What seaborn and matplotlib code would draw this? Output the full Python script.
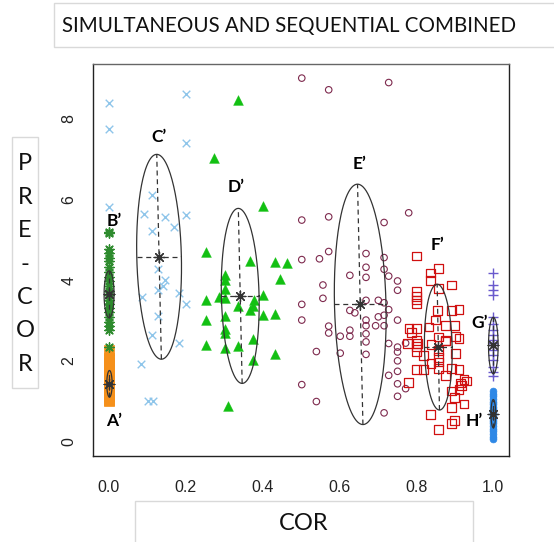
import numpy as np
import pandas as pd
import matplotlib
matplotlib.use("Agg")
import matplotlib.pyplot as plt
import seaborn as sns
from matplotlib.patches import Rectangle

sns.set_style("white")
plt.rcParams["font.family"] = ["Liberation Sans", "DejaVu Sans"]

# ---------------- data ----------------
# A' : orange filled squares at COR = 0
a_x = [0.0] * 20
a_y = [1.00, 1.04, 1.12, 1.18, 1.25, 1.31, 1.36, 1.42, 1.47, 1.50,
       1.58, 1.63, 1.70, 1.76, 1.82, 1.89, 1.95, 2.02, 2.06, 2.27]
# B' : green asterisks at COR = 0
b_x = [0.0] * 22
b_y = [5.20, 5.18, 4.78, 4.68, 4.55, 4.47, 4.33, 4.20, 4.08, 3.97, 3.85,
       3.72, 3.62, 3.52, 3.42, 3.31, 3.20, 3.08, 2.97, 2.86, 2.76, 2.34]
# C' : light blue crosses
c_x = [0.0, 0.0, 0.0, 0.202, 0.202, 0.112, 0.092, 0.146, 0.202, 0.112, 0.170, 0.127,
       0.146, 0.142, 0.127, 0.086, 0.183, 0.202, 0.127, 0.112, 0.183, 0.085, 0.103, 0.114]
c_y = [8.39, 7.75, 5.82, 8.61, 7.40, 6.11, 5.63, 5.57, 5.61, 5.22, 5.32, 4.27,
       4.00, 3.85, 3.75, 3.59, 3.67, 3.40, 3.11, 2.65, 2.45, 1.91, 1.00, 1.00]
# D' : green triangles
d_x = [0.336, 0.274, 0.402, 0.252, 0.367, 0.432, 0.463, 0.445, 0.302, 0.302, 0.302,
       0.287, 0.302, 0.252, 0.402, 0.378, 0.336, 0.367, 0.374, 0.252, 0.302, 0.402,
       0.432, 0.302, 0.302, 0.376, 0.252, 0.302, 0.336, 0.432, 0.376, 0.309]
d_y = [8.47, 7.04, 5.84, 4.69, 4.47, 4.46, 4.42, 4.02, 4.14, 4.00, 3.79,
       3.59, 3.55, 3.52, 3.63, 3.52, 3.35, 3.27, 3.35, 3.02, 3.11, 3.13,
       3.17, 2.80, 2.69, 2.53, 2.40, 2.32, 2.36, 2.16, 2.01, 0.87]
# E' : maroon open circles
e_x = [0.502, 0.572, 0.728, 0.502, 0.572, 0.780, 0.716, 0.502, 0.548, 0.572, 0.669, 0.669,
       0.716, 0.716, 0.669, 0.627, 0.728, 0.751, 0.751, 0.557, 0.557, 0.502, 0.669, 0.701,
       0.716, 0.728, 0.627, 0.640, 0.502, 0.669, 0.701, 0.716, 0.669, 0.694, 0.716, 0.751,
       0.572, 0.572, 0.627, 0.627, 0.602, 0.669, 0.669, 0.728, 0.751, 0.751, 0.772, 0.540,
       0.602, 0.669, 0.751, 0.728, 0.751, 0.502, 0.751, 0.772, 0.751, 0.540, 0.716]
e_y = [9.01, 8.72, 8.90, 5.49, 5.57, 5.67, 5.43, 4.51, 4.53, 4.71, 4.66, 4.32,
       4.56, 4.27, 4.07, 4.12, 4.10, 3.98, 3.75, 3.88, 3.55, 3.40, 3.50, 3.50,
       3.44, 3.27, 3.25, 3.19, 3.01, 3.01, 3.09, 3.13, 2.87, 2.87, 2.87, 3.01,
       2.86, 2.69, 2.76, 2.61, 2.61, 2.67, 2.47, 2.43, 2.34, 2.22, 2.44, 2.23,
       2.19, 2.16, 2.00, 1.64, 1.74, 1.41, 1.43, 1.31, 1.12, 0.99, 0.71]
# F' : red open squares
f_x = [0.801, 0.836, 0.836, 0.857, 0.891, 0.801, 0.801, 0.801, 0.857, 0.850, 0.891, 0.911,
       0.855, 0.801, 0.833, 0.875, 0.900, 0.787, 0.857, 0.876, 0.902, 0.911, 0.803, 0.777,
       0.838, 0.902, 0.801, 0.857, 0.857, 0.857, 0.838, 0.801, 0.818, 0.857, 0.891, 0.911,
       0.876, 0.924, 0.931, 0.915, 0.779, 0.891, 0.911, 0.900, 0.924, 0.891, 0.836, 0.900,
       0.891, 0.857, 0.801, 0.801, 0.801, 0.818, 0.876, 0.918, 0.781]
f_y = [4.60, 4.18, 4.00, 4.29, 3.88, 3.71, 3.59, 3.42, 3.79, 3.01, 3.25, 3.28,
       3.25, 2.80, 2.84, 2.87, 2.88, 2.70, 2.59, 2.49, 2.61, 2.55, 2.43, 2.43,
       2.40, 2.18, 2.22, 2.26, 2.09, 1.97, 1.93, 1.79, 1.79, 1.81, 1.81, 1.79,
       1.64, 1.54, 1.50, 1.45, 1.46, 1.25, 1.28, 1.10, 0.93, 0.85, 0.67, 0.52,
       0.44, 0.29, 3.51, 2.51, 2.36, 2.14, 2.51, 1.39, 2.80]
# G' : slate blue plus signs at COR = 1
g_x = [1.0] * 17
g_y = [4.18, 3.88, 3.75, 3.63, 3.09, 2.92, 2.76, 2.63, 2.51, 2.45,
       2.39, 2.26, 2.14, 2.01, 1.85, 1.72, 1.62]
# H' : blue filled dots at COR = 1
h_x = [1.0] * 20
h_y = [0.05, 0.12, 0.18, 0.25, 0.30, 0.38, 0.45, 0.50, 0.55, 0.62,
       0.68, 0.73, 0.80, 0.86, 0.92, 0.98, 1.05, 1.12, 1.18, 1.25]

# group ellipses (centre, half-width, half-height, tilt of major axis)
groups = ["A’", "B’", "C’", "D’", "E’", "F’", "G’", "H’"]
ell_cx = [0.002, 0.001, 0.131, 0.342, 0.654, 0.857, 1.000, 1.000]
ell_cy = [1.43, 3.65, 4.58, 3.61, 3.40, 2.34, 2.38, 0.69]
ell_a = [0.007, 0.013, 0.058, 0.049, 0.067, 0.036, 0.0125, 0.006]
ell_b = [0.33, 0.58, 2.54, 2.17, 2.98, 1.56, 0.70, 0.35]
ell_tilt = [0.0, 0.0, -0.006, -0.005, -0.007, -0.003, 0.0, 0.0]
lab_x = [0.013, 0.014, 0.131, 0.332, 0.651, 0.855, 0.965, 0.950]
lab_y = [0.50, 5.47, 7.56, 6.32, 6.88, 4.87, 2.95, 0.50]

xticks = [0.0, 0.2, 0.4, 0.6, 0.8, 1.0]
yticks = [0, 2, 4, 6, 8]

# ---------------- figure ----------------
W, H = 554, 542
fig = plt.figure(figsize=(W / 100, H / 100), dpi=100)
ax = fig.add_axes([93.3 / W, 1 - 456 / H, (508.7 - 93.3) / W, (456 - 64) / H])


def sc(x, y, **kw):
    sns.scatterplot(x=x, y=y, ax=ax, legend=False, zorder=3, **kw)


sc(a_x, a_y, marker="s", color="#F5901A", edgecolor="#F5901A", s=50, linewidth=0.5)
sc(b_x, b_y, marker=(8, 2, 0), color="#2E8B2E", s=45, linewidth=1.0)
sc(c_x, c_y, marker="x", color="#8EC5EA", s=30, linewidth=1.0)
sc(d_x, d_y, marker="^", color="#12C012", edgecolor="#12C012", s=50, linewidth=0.3)
sc(e_x, e_y, marker="o", color="#7E2A4E", facecolor="none", edgecolor="#7E2A4E", s=22, linewidth=0.8)
sc(f_x, f_y, marker="s", color="#D01010", facecolor="none", edgecolor="#D01010", s=40, linewidth=0.9)
sc(g_x, g_y, marker="+", color="#6A5ACD", s=45, linewidth=1.0)
sc(h_x, h_y, marker="o", color="#2E88E6", edgecolor="#2E88E6", s=24, linewidth=0.5)

t = np.linspace(0, 2 * np.pi, 200)
ecol = "#333333"
for cx, cy, a, b, tl in zip(ell_cx, ell_cy, ell_a, ell_b, ell_tilt):
    ex = cx + a * np.cos(t) + tl * np.sin(t)
    ey = cy + b * np.sin(t)
    sns.lineplot(x=ex, y=ey, sort=False, estimator=None, color=ecol, lw=0.9, ax=ax, zorder=4)
    sns.lineplot(x=[cx - tl, cx + tl], y=[cy - b, cy + b], sort=False, estimator=None,
                 color=ecol, lw=0.9, linestyle=(0, (4, 3)), ax=ax, zorder=4)
    sns.lineplot(x=[cx - a, cx + a], y=[cy, cy], sort=False, estimator=None,
                 color=ecol, lw=0.9, linestyle=(0, (4, 3)), ax=ax, zorder=4)
sns.scatterplot(x=ell_cx, y=ell_cy, marker=(8, 2, 0), color=ecol, s=60, linewidth=0.9,
                ax=ax, legend=False, zorder=5)

lfam = ["Lato", "DejaVu Sans"]
for g, lx, ly in zip(groups, lab_x, lab_y):
    ax.text(lx, ly, g, ha="center", va="center", fontsize=12.5, fontweight="bold",
            family=lfam, color="black", zorder=6)

ax.set_xlim(-0.04, 1.04)
ax.set_ylim(-0.36, 9.36)
ax.set_xticks(xticks)
ax.set_xticklabels([f"{v:.1f}" for v in xticks])
ax.set_yticks(yticks)
ax.set_yticklabels([str(v) for v in yticks])
ax.tick_params(axis="both", length=6, width=0.8, color="#444444",
               labelsize=11.5, labelcolor="#222222", direction="out")
ax.tick_params(axis="x", pad=11)
ax.tick_params(axis="y", pad=6)
for lbl in ax.get_yticklabels() + ax.get_xticklabels():
    lbl.set_family(["Liberation Sans", "DejaVu Sans"])
for lbl in ax.get_yticklabels():
    lbl.set_rotation(90)
    lbl.set_va("center")
ax.set_xlabel("")
ax.set_ylabel("")
for side in ["left", "bottom", "right"]:
    ax.spines[side].set_color("#222222")
    ax.spines[side].set_linewidth(1.0)
ax.spines["top"].set_color("#666666")
ax.spines["top"].set_linewidth(1.0)

# label boxes
box_kw = dict(transform=fig.transFigure, facecolor="white", edgecolor="#d9d9d9",
              linewidth=1.0, zorder=0)
fig.patches.append(Rectangle((54 / W, 1 - 47 / H), (600 - 54) / W, 44 / H, **box_kw))
fig.patches.append(Rectangle((12 / W, 1 - 388 / H), 26 / W, 251 / H, **box_kw))
fig.patches.append(Rectangle((135 / W, 1 - 560 / H), 338 / W, 59 / H, **box_kw))

fig.text(62 / W, 1 - 26 / H, "SIMULTANEOUS AND SEQUENTIAL COMBINED", ha="left",
         va="center", fontsize=14.8, family=lfam, color="#111111")
fig.text(25 / W, 1 - 264 / H, "P\nR\nE\n-\nC\nO\nR", ha="center", va="center",
         fontsize=17, family=lfam, linespacing=1.73, color="#111111")
fig.text(304 / W, 1 - 523 / H, "COR", ha="center", va="center", fontsize=17,
         family=lfam, color="#111111")

fig.savefig("out.png", dpi=100)
